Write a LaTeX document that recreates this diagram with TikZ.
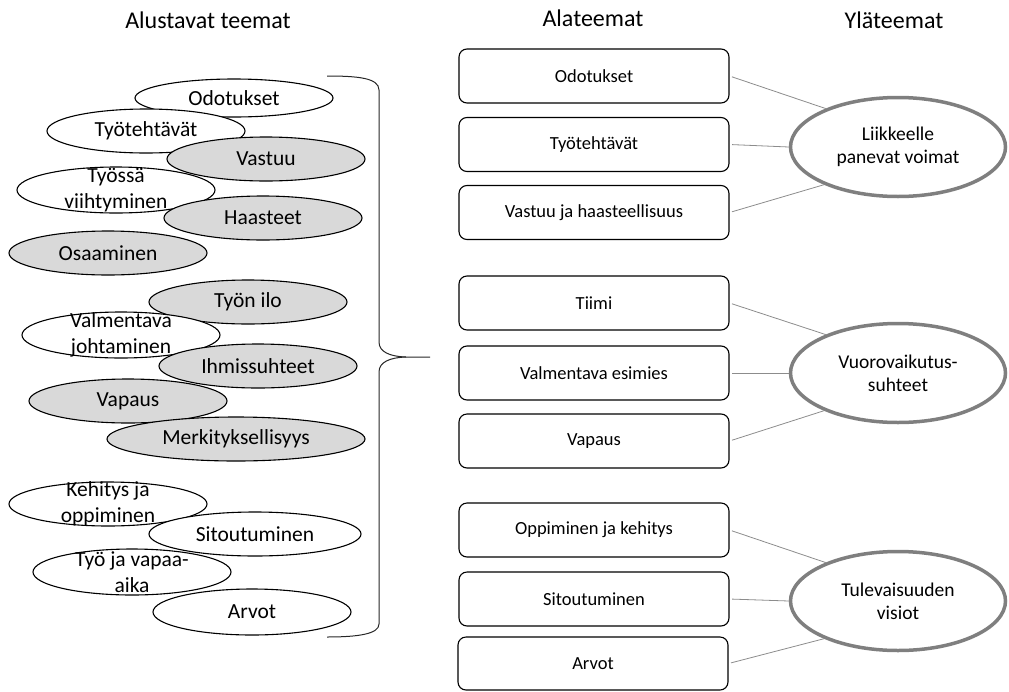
\documentclass[tikz,border=0pt]{standalone}
\usepackage{fontspec}
\setmainfont{Carlito}
\usetikzlibrary{shapes.geometric}
\definecolor{lgray}{HTML}{D9D9D9}
\definecolor{rgray}{HTML}{7F7F7F}
\definecolor{cgray}{HTML}{8C8C8C}
\begin{document}
\begin{tikzpicture}[x=1pt,y=-1pt,
  lell/.style={draw=black, line width=1.1pt, ellipse, minimum width=198pt, minimum height=44pt, inner sep=0pt, fill=white},
  gell/.style={lell, fill=lgray},
  lt/.style={font=\fontsize{21.5}{25.5}\selectfont, align=center, inner sep=0pt},
  title/.style={font=\fontsize{24}{28}\selectfont, inner sep=0pt},
  sbox/.style={draw=black, line width=1.1pt, rounded corners=8pt, minimum width=270pt, minimum height=54pt, inner sep=0pt, font=\fontsize{18.5}{22}\selectfont},
  rell/.style={draw=rgray, line width=3.5pt, ellipse, minimum width=215pt, minimum height=99pt, inner sep=0pt, align=center, font=\fontsize{19.5}{23}\selectfont},
  conn/.style={draw=cgray, line width=0.8pt, shorten <=2.5pt},
  bracel/.style={draw=black!85, line width=1pt}
]
\useasboundingbox (0,0) rectangle (1009,691);

% titles
\node[title] (t1) at (208,20) {Alustavat teemat};
\node[title] (t2) at (593,18) {Alateemat};
\node[title] (t3) at (894,20) {Yläteemat};

% left ellipses
\node[lell, minimum height=38pt, label={[lt]center:Odotukset}] (e1) at (234,98) {};
\node[lell, label={[lt]center:Työtehtävät}] (e2) at (146,131) {};
\node[gell, label={[lt]center:Vastuu}] (e3) at (266,159) {};
\node[lell, minimum height=46pt, label={[lt]center:{Työssä\\viihtyminen}}] (e4) at (116,190) {};
\node[gell, label={[lt]center:Haasteet}] (e5) at (263,218) {};
\node[gell, label={[lt]center:Osaaminen}] (e6) at (108,253) {};
\node[gell, label={[lt]center:Työn ilo}] (e7) at (248,302) {};
\node[lell, minimum height=46pt, label={[lt]center:{Valmentava\\johtaminen}}] (e8) at (121,335) {};
\node[gell, label={[lt]center:Ihmissuhteet}] (e9) at (258,366) {};
\node[gell, label={[lt]center:Vapaus}] (e10) at (128,401) {};
\node[gell, minimum width=258pt, label={[lt]center:Merkityksellisyys}] (e11) at (236,439) {};
\node[lell, label={[lt]center:{Kehitys ja\\oppiminen}}] (e12) at (108,504) {};
\node[lell, minimum width=212pt, label={[lt]center:Sitoutuminen}] (e13) at (255,534) {};
\node[lell, minimum height=46pt, label={[lt]center:{Työ ja vapaa-\\aika}}] (e14) at (132,572) {};
\node[lell, minimum height=46pt, label={[lt]center:Arvot}] (e15) at (252,612) {};

% brace
\coordinate (bt) at (327,76);
\coordinate (bb) at (327,637);
\coordinate (btip) at (430,357);
\draw[bracel] (bt) .. controls (358,76) and (379,78) .. (379,90)
  -- (379,342) .. controls (379,352) and (390,356.5) .. (406,357) -- (btip);
\draw[bracel] (406,357) .. controls (390,357.5) and (379,362) .. (379,372)
  -- (379,624) .. controls (379,634) and (358,637) .. (bb);

% boxes
\node[sbox] (b1) at (594,76) {Odotukset};
\node[sbox] (b2) at (594,144.5) {Työtehtävät};
\node[sbox] (b3) at (594,212.5) {Vastuu ja haasteellisuus};
\node[sbox] (b4) at (594,303) {Tiimi};
\node[sbox] (b5) at (594,373) {Valmentava esimies};
\node[sbox] (b6) at (594,441) {Vapaus};
\node[sbox] (b7) at (594,530) {Oppiminen ja kehitys};
\node[sbox] (b8) at (594,599) {Sitoutuminen};
\node[sbox, minimum height=53pt] (b9) at (593,663.5) {Arvot};

% right ellipses
\node[rell] (r1) at (898,147) {Liikkeelle\\panevat voimat};
\node[rell] (r2) at (898,373) {Vuorovaikutus-\\suhteet};
\node[rell] (r3) at (898,601) {Tulevaisuuden\\visiot};

% connectors
\draw[conn] (b1.east) -- (r1.152);
\draw[conn] (b2.east) -- (r1.west);
\draw[conn] (b3.east) -- (r1.207);
\draw[conn] (b4.east) -- (r2.152);
\draw[conn] (b5.east) -- (r2.west);
\draw[conn] (b6.east) -- (r2.207);
\draw[conn] (b7.east) -- (r3.152);
\draw[conn] (b8.east) -- (r3.west);
\draw[conn] (b9.east) -- (r3.207);
\end{tikzpicture}
\end{document}
